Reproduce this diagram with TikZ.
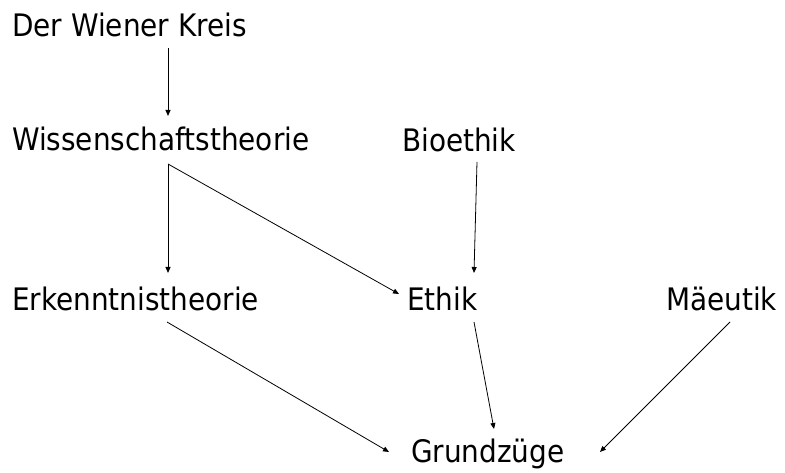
\documentclass[tikz,border=0pt]{standalone}
\usepackage{fontspec}
\setmainfont{DejaVu Sans Condensed}
\usetikzlibrary{arrows.meta}
\begin{document}
\begin{tikzpicture}[x=1pt,y=-1pt,
  lbl/.style={anchor=base west,inner sep=0pt,font=\fontsize{31}{36}\selectfont},
  arr/.style={-{Triangle[length=6pt,width=5pt]},line width=0.8pt}]
\useasboundingbox (0,0) rectangle (785,473);
\node[lbl] (wk) at (12,37) {Der Wiener Kreis};
\node[lbl] (wt) at (12,151) {Wissenschaftstheorie};
\node[lbl] (bio) at (402,152) {Bioethik};
\node[lbl] (erk) at (12,310) {Erkenntnistheorie};
\node[lbl] (eth) at (407,310) {Ethik};
\node[lbl] (mae) at (666,310) {Mäeutik};
\node[lbl] (gz) at (411,462) {Grundzüge};
\coordinate (wkS) at (168,48);
\coordinate (wtN) at (168,116);
\coordinate (wtS) at (168,164);
\coordinate (erkN) at (168,273);
\coordinate (ethW) at (399,294);
\coordinate (bioS) at (477,162);
\coordinate (ethN) at (474,273);
\coordinate (ethS) at (474,322);
\coordinate (gzN) at (494,429);
\coordinate (erkS) at (167,322);
\coordinate (gzW) at (389,452);
\coordinate (maeS) at (730,322);
\coordinate (gzE) at (600,452);
\draw[arr] (wkS) -- (wtN);
\draw[arr] (wtS) -- (erkN);
\draw[arr] (wtS) -- (ethW);
\draw[arr] (bioS) -- (ethN);
\draw[arr] (ethS) -- (gzN);
\draw[arr] (erkS) -- (gzW);
\draw[arr] (maeS) -- (gzE);
\end{tikzpicture}
\end{document}
